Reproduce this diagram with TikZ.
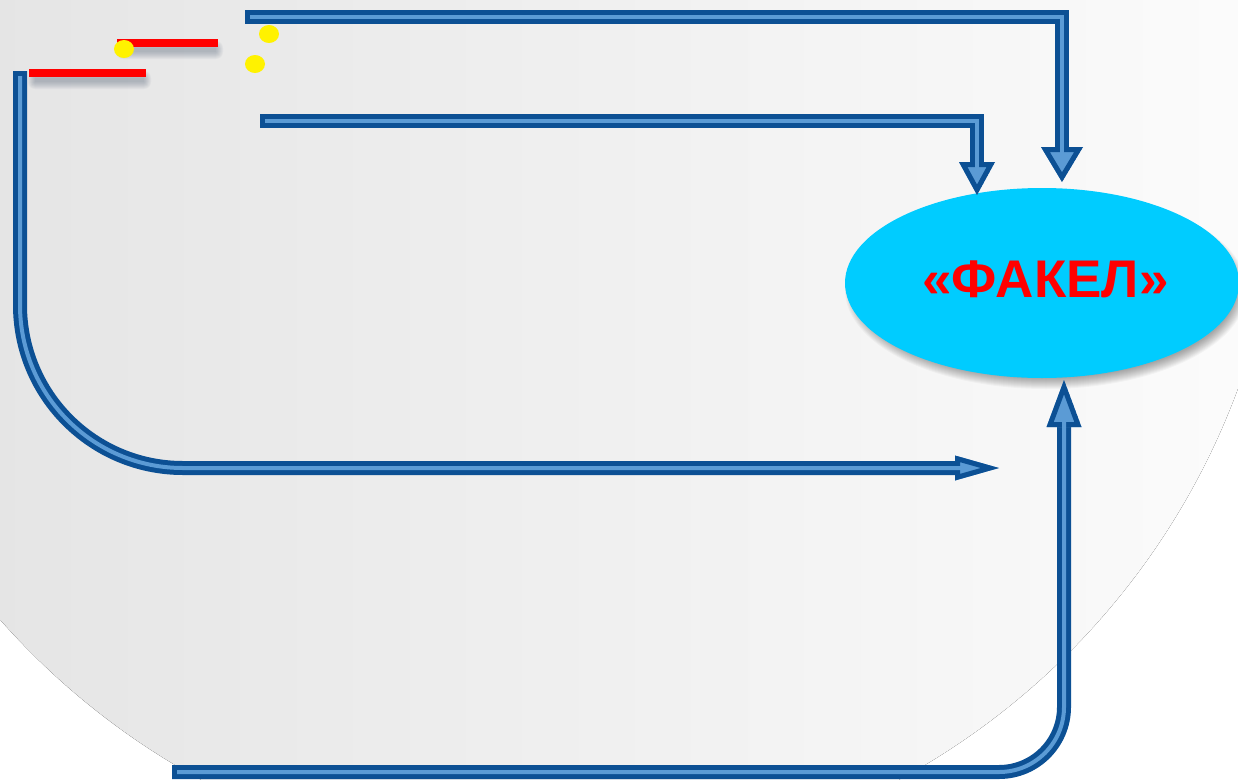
\documentclass[tikz,border=0pt]{standalone}
\usepackage{fontspec}
\newfontfamily\labelfont{Liberation Sans}
\usetikzlibrary{shapes.geometric}
\definecolor{pipedark}{HTML}{0C5094}
\definecolor{pipelight}{HTML}{5B9BD5}
\definecolor{cyanfill}{HTML}{00CCFF}
\definecolor{bgleft}{HTML}{E2E2E2}
\definecolor{bgright}{HTML}{FCFCFC}
\definecolor{shadowcol}{HTML}{4A5A70}
\newcommand\pipehead[3]{%
  \begin{scope}
    \clip #1 -- #2 -- #3 -- cycle;
    \draw[headstyle] #1 -- #2 -- #3 -- cycle;
  \end{scope}}
\newcommand\barshadow[4]{% x1 y1 x2 y2 of bar
  \foreach \k in {0,...,7}{
    \fill[shadowcol,opacity=0.05,rounded corners=\k pt]
      ({#1+2-\k+4},{#2+7-\k+2}) rectangle ({#3+2+\k-4},{#4+7+\k-2});
  }}
\begin{document}
\begin{tikzpicture}[x=1pt,y=-1pt,
  pipeout/.style={draw=pipedark,line width=14pt,line join=miter},
  pipein/.style={draw=pipelight,line width=4pt,line join=miter},
  headstyle/.style={fill=pipelight,draw=pipedark,line width=10pt,line join=miter},
  redbar/.style={fill=red,draw=none},
  dot/.style={ellipse,fill=yellow,draw=none,minimum width=20pt,minimum height=18pt,inner sep=0pt},
  bubble/.style={ellipse,fill=cyanfill,draw=none,minimum width=394pt,minimum height=190pt,inner sep=0pt},
  title/.style={text=red,font=\labelfont\bfseries\fontsize{53}{53}\selectfont,inner sep=0pt}]
\useasboundingbox (0,0) rectangle (1238,779);
% background
\fill[white] (0,0) rectangle (1238,779);
\begin{scope}
  \clip (0,0) rectangle (1238,779);
  \fill[left color=bgleft,right color=bgright] (550,135) circle (733);
\end{scope}
% red bars and dots
\barshadow{117}{39}{218}{47}
\barshadow{29}{69}{146}{77}
\path[redbar] (117,39) rectangle (218,47);
\path[redbar] (29,69) rectangle (146,77);
\node[dot] (d1) at (124,49) {};
\node[dot] (d2) at (269,34) {};
\node[dot] (d3) at (255,64) {};
% ellipse with soft shadow
\foreach \k in {0,...,11}{
  \fill[black,opacity=0.03] (1046,290) ellipse ({201-\k} and {99-\k});
}
\node[bubble] (fakel) at (1042,283) {};
\node[title,anchor=base] (lbl) at (1045.5,297) {«ФАКЕЛ»};
% coordinates
\coordinate (s1) at (245,17);   \coordinate (c1) at (1062,17);
\coordinate (t1) at (1062,182);
\coordinate (s2) at (260,121);  \coordinate (c2) at (977,121);
\coordinate (t2) at (977,195);
\coordinate (s3) at (20,71);    \coordinate (c3) at (20,468);
\coordinate (t3) at (999,468);
\coordinate (s4) at (172,772);  \coordinate (c4) at (1064,772);
\coordinate (t4) at (1064,380);
% arrow 1
\draw[pipeout] (s1) -- (c1) -- (1062,150);
\pipehead{(t1)}{(1041,147)}{(1083,147)}
\draw[pipein] ([xshift=5pt]s1) -- (c1) -- (1062,158);
% arrow 2
\draw[pipeout] (s2) -- (c2) -- (977,165);
\pipehead{(t2)}{(959,162)}{(995,162)}
\draw[pipein] ([xshift=5pt]s2) -- (c2) -- (977,172);
% arrow 3
\draw[pipeout,rounded corners=163pt] (s3) -- (c3) -- (958,468);
\pipehead{(t3)}{(955,455.5)}{(955,480.5)}
\draw[pipein,rounded corners=163pt] ([yshift=-5pt]s3) -- (c3) -- (964,468);
% arrow 4
\draw[pipeout,rounded corners=65pt] (s4) -- (c4) -- (1064,424);
\pipehead{(t4)}{(1046.5,427)}{(1081.5,427)}
\draw[pipein,rounded corners=65pt] ([xshift=5pt]s4) -- (c4) -- (1064,418);
\end{tikzpicture}
\end{document}
